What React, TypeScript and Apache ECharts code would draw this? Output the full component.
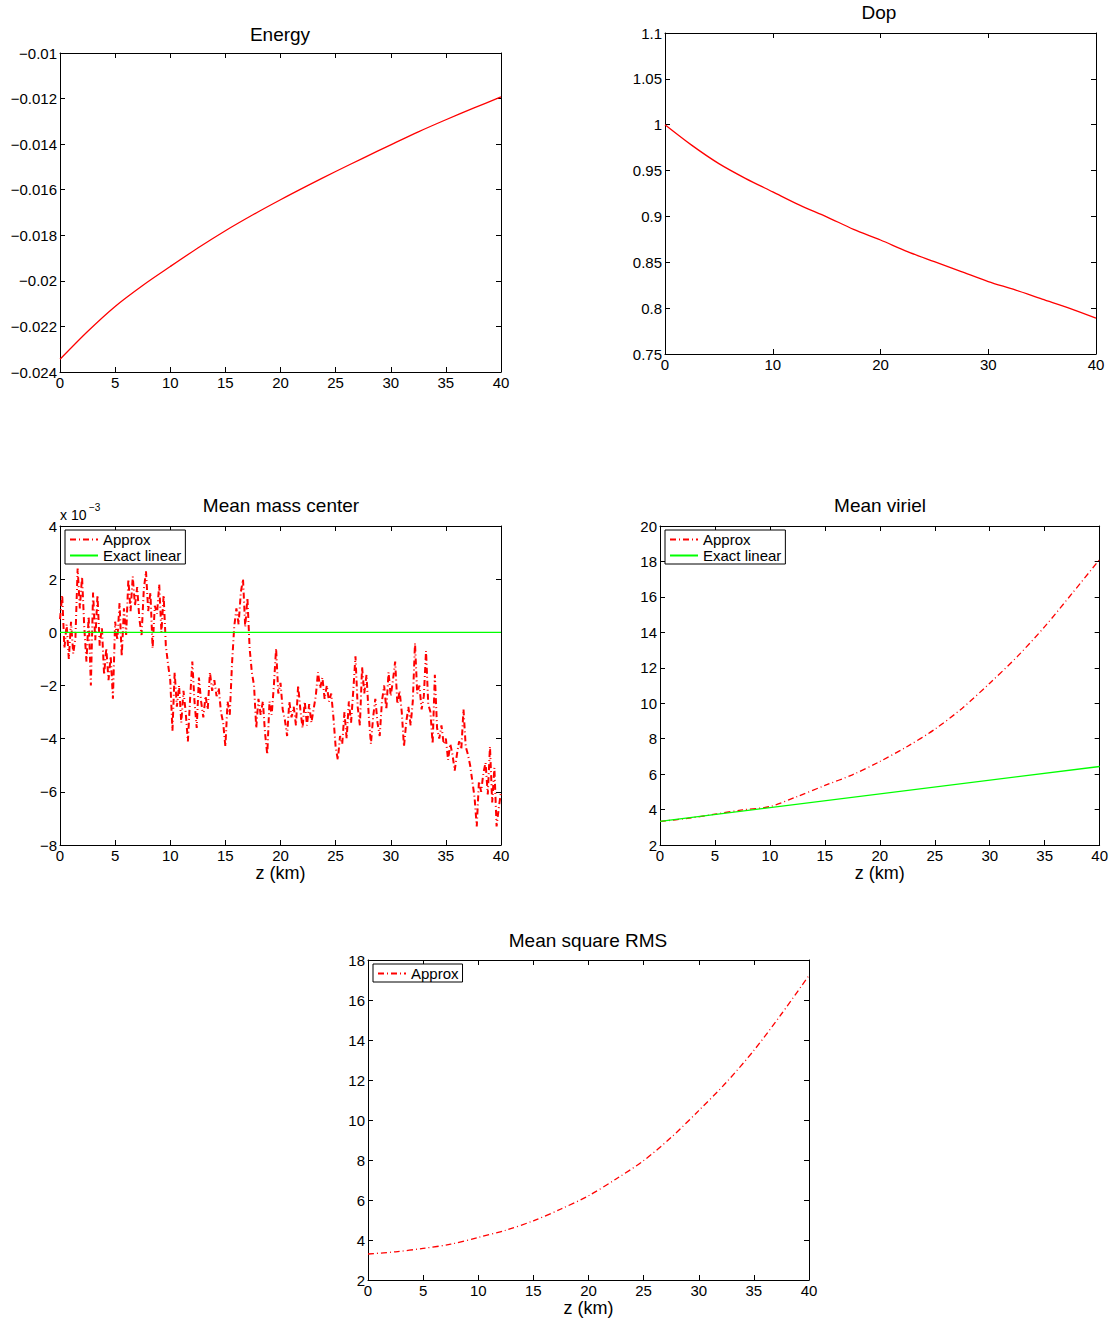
import React, { useEffect, useRef } from "react";
import * as echarts from "echarts";

// ---- Data ----
const zFine = [0, 2.5, 5, 7.5, 10, 12.5, 15, 17.5, 20, 22.5, 25, 27.5, 30, 32.5, 35, 37.5, 40];
const energyValues = [-0.02344, -0.02222, -0.02112, -0.0202, -0.01937, -0.01856, -0.0178, -0.0171, -0.01644, -0.01581, -0.0152, -0.01461, -0.01403, -0.01346, -0.01293, -0.01242, -0.01193];
const dopValues = [1.0, 0.9775, 0.9576, 0.9413, 0.9268, 0.9123, 0.8996, 0.8859, 0.8743, 0.8616, 0.8507, 0.8399, 0.829, 0.8199, 0.8098, 0.8, 0.789];
const viriel_approx = [3.33, 3.5, 3.74, 3.98, 4.17, 4.74, 5.36, 5.96, 6.71, 7.56, 8.53, 9.72, 11.13, 12.63, 14.32, 16.2, 18.12];
const viriel_exactZ = [0, 40];
const viriel_exact = [3.33, 6.43];
const rms_approx = [3.3, 3.41, 3.58, 3.79, 4.13, 4.49, 4.96, 5.55, 6.21, 7.05, 7.97, 9.13, 10.47, 11.88, 13.48, 15.3, 17.23];

// Mean mass center (units of 1e-3), sampled every 0.2 km from 0 to 40
const massStep = 0.2;
const massCenterE3 = [
  0.5, 1.4, -0.6, 0.3, -1.0, 0.4, -0.8, -0.2, 2.4, 0.9,
  2.1, 0.2, -1.1, 0.6, -2.0, 1.5, -0.3, 1.4, -0.5, 0.2,
  -1.6, -0.6, -1.8, -0.9, -2.5, 0.4, -0.3, 1.1, -0.9, 0.9,
  -0.1, 2.0, 0.8, 2.1, 1.0, 1.7, 0.5, -0.1, 1.6, 2.3,
  0.8, 1.5, -0.6, 1.0, 0.7, 1.8, 0.0, 1.4, -0.5, -1.2,
  -1.8, -3.7, -1.5, -2.8, -2.0, -3.4, -2.2, -3.0, -4.1, -2.5,
  -1.1, -2.6, -3.6, -1.7, -2.6, -3.2, -2.4, -2.9, -1.5, -2.2,
  -1.8, -2.4, -2.1, -3.0, -3.4, -4.3, -2.6, -3.1, -1.2, 0.2,
  0.9, 0.3, 1.5, 2.0, 0.2, 1.3, -0.6, -1.5, -2.0, -3.6,
  -2.5, -3.1, -2.6, -3.8, -4.6, -2.6, -3.1, -2.0, -0.6, -2.3,
  -1.9, -2.9, -3.3, -3.9, -2.6, -3.2, -2.8, -3.5, -2.0, -2.9,
  -3.6, -2.6, -3.5, -2.7, -3.4, -2.9, -2.4, -1.5, -2.1, -1.7,
  -2.5, -2.0, -2.6, -2.3, -3.2, -4.3, -4.8, -3.9, -4.2, -3.0,
  -4.0, -2.6, -3.4, -2.2, -0.9, -2.8, -3.5, -1.3, -2.3, -1.6,
  -3.1, -4.2, -3.2, -2.5, -3.4, -3.9, -2.6, -2.0, -2.9, -1.5,
  -2.4, -1.8, -1.1, -2.7, -2.2, -3.0, -4.3, -3.4, -2.8, -3.5,
  -2.6, -0.4, -2.3, -2.0, -2.9, -2.4, -0.7, -2.7, -3.0, -4.2,
  -1.6, -3.6, -4.0, -3.5, -4.2, -4.0, -4.8, -4.2, -4.6, -5.2,
  -4.6, -4.1, -4.4, -2.9, -4.3, -4.6, -5.0, -5.6, -6.2, -7.3,
  -5.6, -6.0, -5.3, -4.9, -6.1, -4.3, -6.4, -5.1, -7.3, -6.6,
  -6.0,
];
const massExactZ = [0, 40];
const massExact = [0, 0];

const titles = ["Energy", "Dop", "Mean mass center", "Mean viriel", "Mean square RMS"];
const xLabelName = "z (km)";

// ---- Styling helpers ----
const FONT = "Liberation Sans, Arial, Helvetica, sans-serif";
const RED = "#ff0000";
const GREEN = "#00ff00";
const DASHDOT = [6, 3, 1, 3];

const fmt = (v: number) => {
  const s = String(Number(v.toFixed(6)));
  return s.replace("-", "\u2212");
};

const grids = [
  { left: 60, top: 53, width: 441, height: 319 },
  { left: 665, top: 33, width: 431, height: 321 },
  { left: 60, top: 526, width: 441, height: 319 },
  { left: 660, top: 526, width: 441, height: 319 },
  { left: 368, top: 960, width: 441, height: 320 },
];

const axisCfg = [
  { xmin: 0, xmax: 40, xint: 5, ymin: -0.024, ymax: -0.01, yint: 0.002, xname: "" },
  { xmin: 0, xmax: 40, xint: 10, ymin: 0.75, ymax: 1.1, yint: 0.05, xname: "" },
  { xmin: 0, xmax: 40, xint: 5, ymin: -8, ymax: 4, yint: 2, xname: xLabelName },
  { xmin: 0, xmax: 40, xint: 5, ymin: 2, ymax: 20, yint: 2, xname: xLabelName },
  { xmin: 0, xmax: 40, xint: 5, ymin: 2, ymax: 18, yint: 2, xname: xLabelName },
];

function buildAxes() {
  const xAxis: any[] = [];
  const yAxis: any[] = [];
  axisCfg.forEach((c, g) => {
    const common = {
      type: "value",
      gridIndex: g,
      axisLine: { show: true, onZero: false, lineStyle: { color: "#000", width: 1 } },
      axisTick: { show: true, inside: true, length: 5, lineStyle: { color: "#000" } },
      splitLine: { show: false },
    };
    xAxis.push({
      ...common,
      position: "bottom",
      min: c.xmin,
      max: c.xmax,
      interval: c.xint,
      name: c.xname,
      nameLocation: "middle",
      nameGap: 18,
      nameTextStyle: { fontFamily: FONT, fontSize: 18, color: "#000" },
      axisLabel: { show: true, margin: 3, fontFamily: FONT, fontSize: 15, color: "#000", formatter: fmt },
    });
    xAxis.push({
      ...common,
      position: "top",
      min: c.xmin,
      max: c.xmax,
      interval: c.xint,
      axisLabel: { show: false },
    });
    yAxis.push({
      ...common,
      position: "left",
      min: c.ymin,
      max: c.ymax,
      interval: c.yint,
      axisLabel: { show: true, margin: 3, fontFamily: FONT, fontSize: 15, color: "#000", formatter: fmt },
    });
    yAxis.push({
      ...common,
      position: "right",
      min: c.ymin,
      max: c.ymax,
      interval: c.yint,
      axisLabel: { show: false },
    });
  });
  return { xAxis, yAxis };
}

const pairs = (xs: number[], ys: number[]) => ys.map((y, i) => [xs[i], y]);

export default function App() {
  const ref = useRef<HTMLDivElement>(null);
  useEffect(() => {
    if (!ref.current) return;
    const chart = echarts.init(ref.current, undefined, { renderer: "svg" });
    const { xAxis, yAxis } = buildAxes();
    const massData = massCenterE3.map((v, i) => [Number((i * massStep).toFixed(1)), v]);

    const titleCenters = [
      { x: 280, y: 25 },
      { x: 879, y: 3 },
      { x: 281, y: 496 },
      { x: 880, y: 496 },
      { x: 588, y: 931 },
    ];

    const legendBase = {
      orient: "vertical",
      selectedMode: false,
      backgroundColor: "#fff",
      borderColor: "#000",
      borderWidth: 1,
      borderRadius: 0,
      padding: [2, 4, 1, 4],
      itemGap: 1,
      itemWidth: 28,
      itemHeight: 16,
      itemStyle: { opacity: 0 },
      textStyle: { fontFamily: FONT, fontSize: 15, color: "#000", padding: [0, 0, 0, 0] },
    };

    const option: any = {
      animation: false,
      backgroundColor: "#fff",
      title: titles.map((t, i) => ({
        text: t,
        left: titleCenters[i].x,
        top: titleCenters[i].y,
        textAlign: "center",
        padding: 0,
        textStyle: { fontFamily: FONT, fontSize: 19, fontWeight: "normal", color: "#000" },
      })),
      grid: grids.map((g) => ({ ...g, containLabel: false })),
      xAxis,
      yAxis,
      legend: [
        { ...legendBase, left: 65, top: 530, data: ["Approx", "Exact linear"] },
        { ...legendBase, left: 665, top: 530, data: ["Approx", "Exact linear"] },
        { ...legendBase, left: 373, top: 964, data: ["Approx"] },
      ],
      graphic: [
        { type: "text", left: 60, top: 508, style: { text: "x 10", fontFamily: FONT, fontSize: 14, fill: "#000" } },
        { type: "text", left: 89, top: 502, style: { text: "\u22123", fontFamily: FONT, fontSize: 10, fill: "#000" } },
      ],
      series: [
        {
          name: "Energy",
          type: "line",
          xAxisIndex: 0,
          yAxisIndex: 0,
          data: pairs(zFine, energyValues),
          smooth: 0.3,
          showSymbol: false,
          symbol: "none",
          lineStyle: { color: RED, width: 1.3 },
          itemStyle: { color: RED },
        },
        {
          name: "Dop",
          type: "line",
          xAxisIndex: 2,
          yAxisIndex: 2,
          data: pairs(zFine, dopValues),
          smooth: 0.3,
          showSymbol: false,
          symbol: "none",
          lineStyle: { color: RED, width: 1.3 },
          itemStyle: { color: RED },
        },
        {
          name: "Approx",
          type: "line",
          xAxisIndex: 4,
          yAxisIndex: 4,
          data: massData,
          showSymbol: false,
          symbol: "none",
          lineStyle: { color: RED, width: 2, type: DASHDOT },
          itemStyle: { color: RED },
        },
        {
          name: "Exact linear",
          type: "line",
          xAxisIndex: 4,
          yAxisIndex: 4,
          data: pairs(massExactZ, massExact),
          showSymbol: false,
          symbol: "none",
          lineStyle: { color: GREEN, width: 1.3 },
          itemStyle: { color: GREEN },
        },
        {
          name: "Approx",
          type: "line",
          xAxisIndex: 6,
          yAxisIndex: 6,
          data: pairs(zFine, viriel_approx),
          smooth: 0.3,
          showSymbol: false,
          symbol: "none",
          lineStyle: { color: RED, width: 1.3, type: DASHDOT },
          itemStyle: { color: RED },
        },
        {
          name: "Exact linear",
          type: "line",
          xAxisIndex: 6,
          yAxisIndex: 6,
          data: pairs(viriel_exactZ, viriel_exact),
          showSymbol: false,
          symbol: "none",
          lineStyle: { color: GREEN, width: 1.3 },
          itemStyle: { color: GREEN },
        },
        {
          name: "Approx",
          type: "line",
          xAxisIndex: 8,
          yAxisIndex: 8,
          data: pairs(zFine, rms_approx),
          smooth: 0.3,
          showSymbol: false,
          symbol: "none",
          lineStyle: { color: RED, width: 1.3, type: DASHDOT },
          itemStyle: { color: RED },
        },
      ],
    };
    chart.setOption(option);
    return () => chart.dispose();
  }, []);

  return (
    <div
      ref={ref}
      style={{ position: "absolute", left: 0, top: 0, width: 1111, height: 1318, background: "#fff" }}
    />
  );
}
